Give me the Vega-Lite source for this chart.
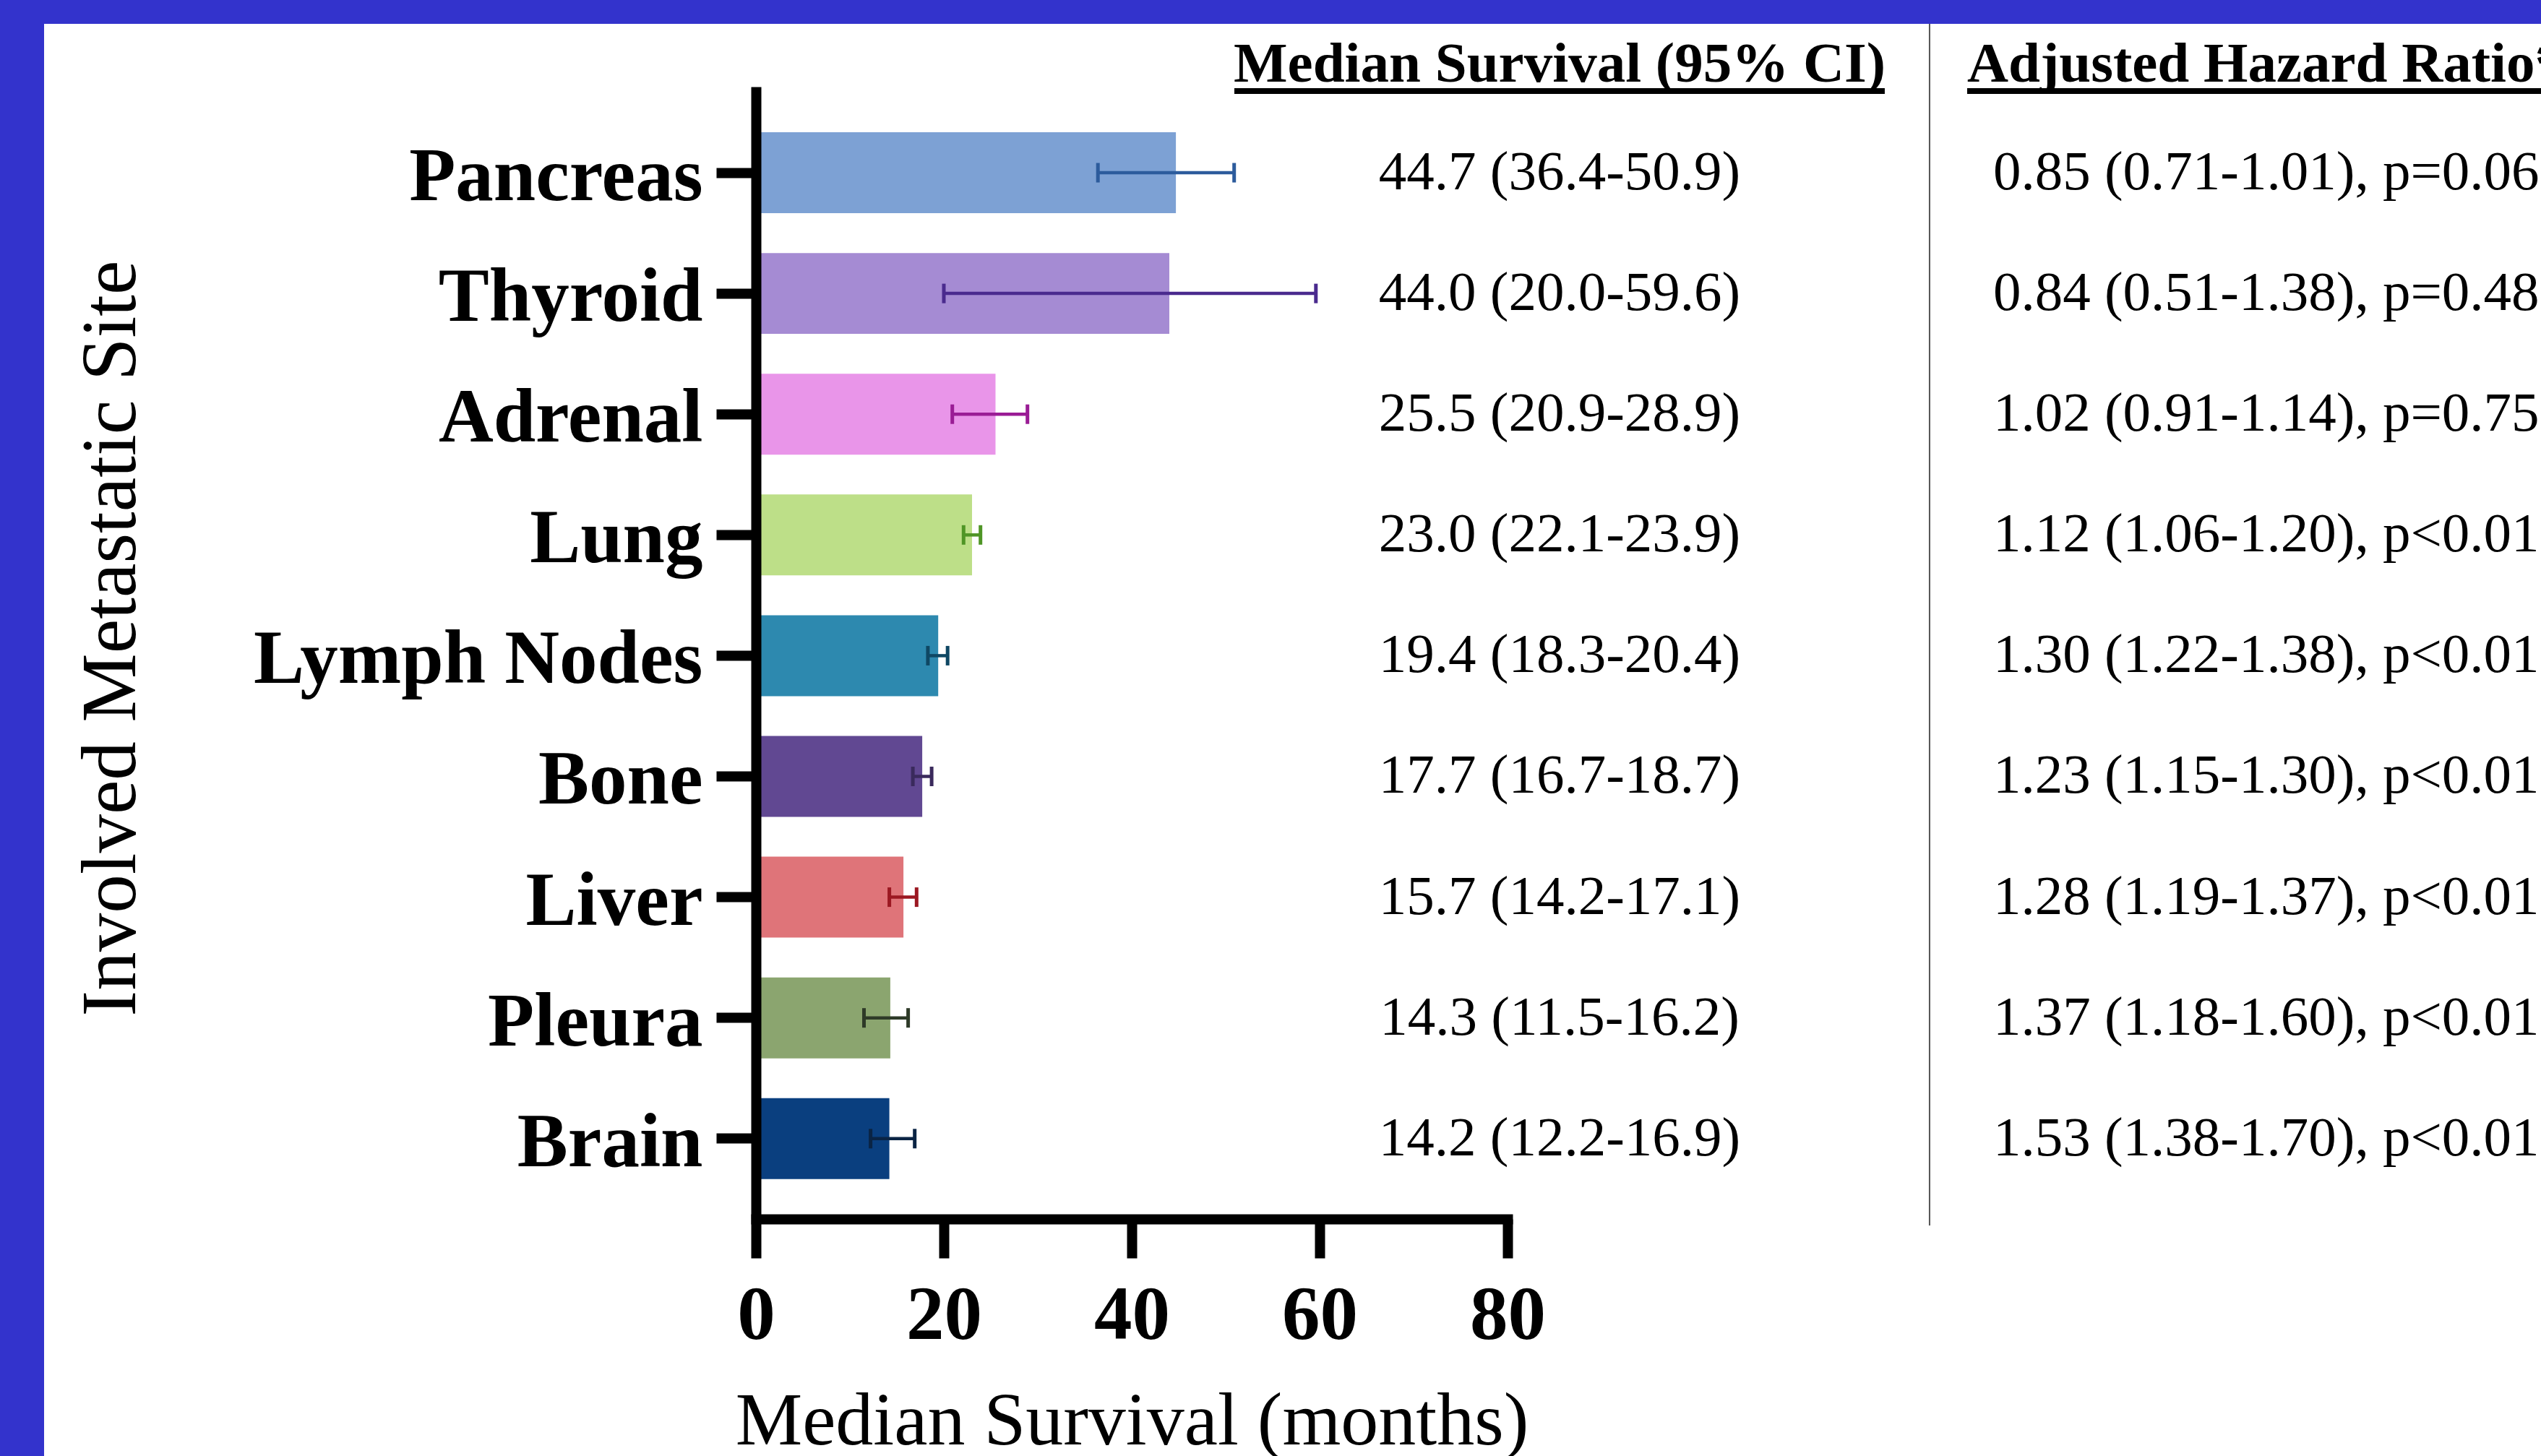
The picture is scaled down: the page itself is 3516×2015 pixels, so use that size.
{
  "$schema": "https://vega.github.io/schema/vega-lite/v6.json",
  "width": 3455,
  "height": 1982,
  "autosize": {"type": "none"},
  "padding": {"left": 61, "top": 33, "right": 0, "bottom": 0},
  "background": "#3333cc",
  "config": {"view": {"fill": "white", "stroke": null}, "font": "Liberation Serif"},
  "data": {"values": [
    {"site": "Pancreas", "ms": 44.7, "lo": 36.4, "hi": 50.9, "msText": "44.7 (36.4-50.9)", "hrText": "0.85 (0.71-1.01), p=0.06"},
    {"site": "Thyroid", "ms": 44.0, "lo": 20.0, "hi": 59.6, "msText": "44.0 (20.0-59.6)", "hrText": "0.84 (0.51-1.38), p=0.48"},
    {"site": "Adrenal", "ms": 25.5, "lo": 20.9, "hi": 28.9, "msText": "25.5 (20.9-28.9)", "hrText": "1.02 (0.91-1.14), p=0.75"},
    {"site": "Lung", "ms": 23.0, "lo": 22.1, "hi": 23.9, "msText": "23.0 (22.1-23.9)", "hrText": "1.12 (1.06-1.20), p<0.01"},
    {"site": "Lymph Nodes", "ms": 19.4, "lo": 18.3, "hi": 20.4, "msText": "19.4 (18.3-20.4)", "hrText": "1.30 (1.22-1.38), p<0.01"},
    {"site": "Bone", "ms": 17.7, "lo": 16.7, "hi": 18.7, "msText": "17.7 (16.7-18.7)", "hrText": "1.23 (1.15-1.30), p<0.01"},
    {"site": "Liver", "ms": 15.7, "lo": 14.2, "hi": 17.1, "msText": "15.7 (14.2-17.1)", "hrText": "1.28 (1.19-1.37), p<0.01"},
    {"site": "Pleura", "ms": 14.3, "lo": 11.5, "hi": 16.2, "msText": "14.3 (11.5-16.2)", "hrText": "1.37 (1.18-1.60), p<0.01"},
    {"site": "Brain", "ms": 14.2, "lo": 12.2, "hi": 16.9, "msText": "14.2 (12.2-16.9)", "hrText": "1.53 (1.38-1.70), p<0.01"}
  ]},
  "resolve": {"scale": {"color": "independent"}},
  "layer": [
    {
      "mark": {"type": "bar"},
      "encoding": {
        "y": {
          "field": "site", "type": "nominal", "sort": null,
          "scale": {
            "domain": ["Pancreas", "Thyroid", "Adrenal", "Lung", "Lymph Nodes", "Bone", "Liver", "Pleura", "Brain"],
            "range": [87, 1654], "paddingInner": 0.33, "paddingOuter": 0.354, "align": 0.533
          },
          "axis": {
            "domainWidth": 14, "domainColor": "black", "domainCap": "butt",
            "tickWidth": 14, "tickSize": 55, "tickColor": "black",
            "labelFont": "Liberation Serif", "labelFontSize": 105, "labelFontWeight": "bold", "labelColor": "black",
            "labelPadding": 19, "labelOffset": 6, "labelLimit": 2000,
            "title": "Involved Metastatic Site", "titleFont": "Liberation Serif", "titleFontSize": 107,
            "titleFontWeight": "normal", "titleColor": "black", "titleAngle": 270,
            "titleX": -860, "titleY": 850, "titleBaseline": "alphabetic", "titleAlign": "center", "titleLimit": 3000,
            "offset": -985, "zindex": 1, "grid": false
          }
        },
        "x": {
          "field": "ms", "type": "quantitative",
          "scale": {"domain": [0, 80], "range": [985, 2025], "nice": false, "zero": true},
          "axis": {
            "values": [0, 20, 40, 60, 80],
            "domainWidth": 14, "domainColor": "black", "domainCap": "square",
            "tickWidth": 14, "tickSize": 54, "tickColor": "black",
            "labelFont": "Liberation Serif", "labelFontSize": 105, "labelFontWeight": "bold", "labelColor": "black",
            "labelPadding": 28, "labelFlush": false, "labelOverlap": false,
            "title": "Median Survival (months)", "titleFont": "Liberation Serif", "titleFontSize": 104,
            "titleFontWeight": "normal", "titleColor": "black",
            "titleX": 1505, "titleY": 311, "titleBaseline": "alphabetic", "titleAlign": "center", "titleLimit": 3000,
            "offset": -328, "zindex": 1, "grid": false
          }
        },
        "color": {
          "field": "site", "type": "nominal",
          "scale": {
            "domain": ["Pancreas", "Thyroid", "Adrenal", "Lung", "Lymph Nodes", "Bone", "Liver", "Pleura", "Brain"],
            "range": ["#7da1d4", "#a58bd3", "#e995e9", "#bddf88", "#2d89af", "#614892", "#df7479", "#8ba56f", "#0a3f7f"]
          },
          "legend": null
        }
      }
    },
    {
      "mark": {"type": "rule", "strokeWidth": 4.5},
      "encoding": {
        "y": {"field": "site", "type": "nominal", "sort": null},
        "x": {"field": "lo", "type": "quantitative"},
        "x2": {"field": "hi"},
        "color": {
          "field": "site", "type": "nominal",
          "scale": {
            "domain": ["Pancreas", "Thyroid", "Adrenal", "Lung", "Lymph Nodes", "Bone", "Liver", "Pleura", "Brain"],
            "range": ["#2c5b9c", "#4a2a8e", "#9a1c95", "#4f9526", "#0f4763", "#3a2a5c", "#9b1822", "#2e3a28", "#0a2444"]
          },
          "legend": null
        }
      }
    },
    {
      "mark": {"type": "tick", "size": 27, "thickness": 5, "opacity": 1},
      "encoding": {
        "y": {"field": "site", "type": "nominal", "sort": null},
        "x": {"field": "lo", "type": "quantitative"},
        "color": {
          "field": "site", "type": "nominal",
          "scale": {
            "domain": ["Pancreas", "Thyroid", "Adrenal", "Lung", "Lymph Nodes", "Bone", "Liver", "Pleura", "Brain"],
            "range": ["#2c5b9c", "#4a2a8e", "#9a1c95", "#4f9526", "#0f4763", "#3a2a5c", "#9b1822", "#2e3a28", "#0a2444"]
          },
          "legend": null
        }
      }
    },
    {
      "mark": {"type": "tick", "size": 27, "thickness": 5, "opacity": 1},
      "encoding": {
        "y": {"field": "site", "type": "nominal", "sort": null},
        "x": {"field": "hi", "type": "quantitative"},
        "color": {
          "field": "site", "type": "nominal",
          "scale": {
            "domain": ["Pancreas", "Thyroid", "Adrenal", "Lung", "Lymph Nodes", "Bone", "Liver", "Pleura", "Brain"],
            "range": ["#2c5b9c", "#4a2a8e", "#9a1c95", "#4f9526", "#0f4763", "#3a2a5c", "#9b1822", "#2e3a28", "#0a2444"]
          },
          "legend": null
        }
      }
    },
    {
      "mark": {"type": "text", "font": "Liberation Serif", "fontSize": 77, "align": "center", "baseline": "middle", "color": "black"},
      "encoding": {
        "y": {"field": "site", "type": "nominal", "sort": null},
        "x": {"datum": 85.54, "type": "quantitative"},
        "text": {"field": "msText"}
      }
    },
    {
      "mark": {"type": "text", "font": "Liberation Serif", "fontSize": 77, "align": "left", "baseline": "middle", "color": "black"},
      "encoding": {
        "y": {"field": "site", "type": "nominal", "sort": null},
        "x": {"datum": 131.69, "type": "quantitative"},
        "text": {"field": "hrText"}
      }
    },
    {
      "data": {"values": [{"header": "Median Survival (95% CI)"}]},
      "mark": {"type": "text", "font": "Liberation Serif", "fontSize": 79, "fontWeight": "bold", "align": "center", "baseline": "alphabetic", "color": "black"},
      "encoding": {
        "x": {"datum": 85.54, "type": "quantitative"},
        "y": {"datum": "Pancreas", "type": "nominal", "bandPosition": -0.626},
        "text": {"field": "header"}
      }
    },
    {
      "data": {"values": [{"header": "Adjusted Hazard Ratio*"}]},
      "mark": {"type": "text", "font": "Liberation Serif", "fontSize": 79, "fontWeight": "bold", "align": "left", "baseline": "alphabetic", "color": "black"},
      "encoding": {
        "x": {"datum": 128.92, "type": "quantitative"},
        "y": {"datum": "Pancreas", "type": "nominal", "bandPosition": -0.626},
        "text": {"field": "header"}
      }
    },
    {
      "data": {"values": [{"header": "Median Survival (95% CI)"}]},
      "mark": {"type": "rule", "strokeWidth": 8, "color": "black"},
      "encoding": {
        "x": {"datum": 50.92, "type": "quantitative"},
        "x2": {"datum": 120.15},
        "y": {"datum": "Pancreas", "type": "nominal", "bandPosition": -0.51}
      }
    },
    {
      "data": {"values": [{"header": "Adjusted Hazard Ratio*"}]},
      "mark": {"type": "rule", "strokeWidth": 8, "color": "black"},
      "encoding": {
        "x": {"datum": 128.92, "type": "quantitative"},
        "x2": {"datum": 200},
        "y": {"datum": "Pancreas", "type": "nominal", "bandPosition": -0.51}
      }
    },
    {
      "data": {"values": [{"line": "column separator"}]},
      "mark": {"type": "rule", "strokeWidth": 2, "color": "#555555"},
      "encoding": {
        "x": {"datum": 124.92, "type": "quantitative"},
        "y": {"datum": "Pancreas", "type": "nominal", "bandPosition": -1.3404},
        "y2": {"datum": "Brain", "bandPosition": 1.574}
      }
    }
  ]
}
